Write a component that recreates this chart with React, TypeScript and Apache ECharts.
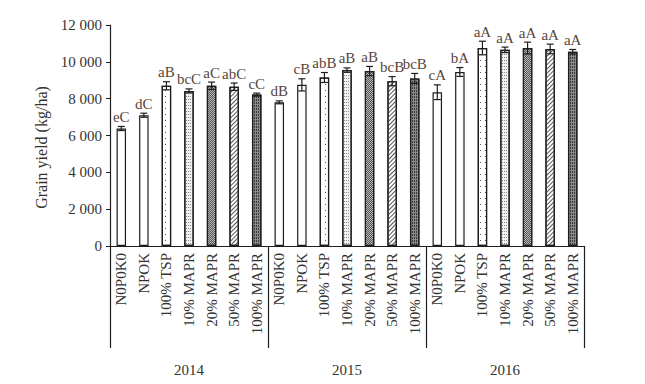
import React, { useEffect, useRef } from "react";
import * as echarts from "echarts";

const years = ["2014", "2015", "2016"];
const treatments = ["N0P0K0", "NPOK", "100% TSP", "10% MAPR", "20% MAPR", "50% MAPR", "100% MAPR"];
const yield2014 = [6380, 7100, 8700, 8420, 8700, 8650, 8220];
const yield2015 = [7800, 8750, 9150, 9550, 9500, 8950, 9100];
const yield2016 = [8350, 9450, 10750, 10650, 10750, 10700, 10550];
const err2014 = [110, 110, 220, 110, 200, 200, 80];
const err2015 = [80, 330, 270, 120, 250, 250, 270];
const err2016 = [400, 240, 370, 150, 320, 260, 120];
const letters2014 = ["eC", "dC", "aB", "bcC", "aC", "abC", "cC"];
const letters2015 = ["dB", "cB", "abB", "aB", "aB", "bcB", "bcB"];
const letters2016 = ["cA", "bA", "aA", "aA", "aA", "aA", "aA"];
const yTicks = [0, 2000, 4000, 6000, 8000, 10000, 12000];

const FONT = "'Liberation Serif', 'DejaVu Serif', serif";
const INK = "#1e1e1e";
const TEXT = "#333333";
const LETTER = "#57463c";

const fills: any[] = [
  { color: "#ffffff" },
  { color: "#ffffff" },
  {
    color: "#ffffff",
    decal: { symbol: "rect", symbolSize: 1, dashArrayX: [1, 4], dashArrayY: [1, 5], color: "#555555" },
  },
  {
    color: "#f2f2f2",
    decal: { symbol: "rect", symbolSize: 1, dashArrayX: [1, 1], dashArrayY: [1, 2], color: "#8a8a8a" },
  },
  {
    color: "#b8b8b8",
    decal: { symbol: "rect", symbolSize: 1, dashArrayX: [[1, 1], [0, 1, 1, 0]], dashArrayY: [1, 0], color: "#555555" },
  },
  {
    color: "#ffffff",
    decal: { symbol: "rect", symbolSize: 1, dashArrayX: [1, 0], dashArrayY: [1, 2], rotation: -Math.PI / 4, color: "#555555" },
  },
  {
    color: "#8a8a8a",
    decal: { symbol: "rect", symbolSize: 1, dashArrayX: [1, 1], dashArrayY: [2, 1], color: "#3a3a3a" },
  },
];

const allYields = [yield2014, yield2015, yield2016];
const allErrs = [err2014, err2015, err2016];
const allLetters = [letters2014, letters2015, letters2016];

const categories: string[] = [];
const barData: any[] = [];
const errData: any[] = [];
const letterList: string[] = [];
years.forEach((yr, yi) => {
  treatments.forEach((t, ti) => {
    const idx = categories.length;
    categories.push(yr + "|" + t);
    barData.push({
      value: allYields[yi][ti],
      itemStyle: { ...fills[ti], borderColor: INK, borderWidth: 1.2 },
    });
    errData.push([idx, allYields[yi][ti], allErrs[yi][ti]]);
    letterList.push(allLetters[yi][ti]);
  });
});

const fmtThousands = (v: number) => {
  const s = String(v);
  return s.length > 3 ? s.slice(0, s.length - 3) + " " + s.slice(s.length - 3) : s;
};

export default function App() {
  const ref = useRef<HTMLDivElement>(null);
  useEffect(() => {
    if (!ref.current) return;
    const chart = echarts.init(ref.current, undefined, { renderer: "svg" });
    chart.setOption({
      animation: false,
      backgroundColor: "#ffffff",
      grid: [
        { left: 110, right: 61, top: 25, bottom: 138 },
        { left: 110, right: 61, top: 246, bottom: 36 },
      ],
      xAxis: [
        {
          type: "category",
          gridIndex: 0,
          data: categories,
          axisLine: { show: true, lineStyle: { color: INK, width: 1.2 } },
          axisTick: { show: false },
          axisLabel: {
            interval: 0,
            rotate: 90,
            margin: 7,
            fontFamily: FONT,
            fontSize: 15,
            color: TEXT,
            formatter: (v: string) => v.split("|")[1],
          },
          splitLine: { show: false },
        },
        {
          type: "category",
          gridIndex: 1,
          data: years,
          axisLine: { show: false },
          axisTick: { show: false },
          axisLabel: { interval: 0, margin: 14, fontFamily: FONT, fontSize: 15, color: TEXT },
          splitLine: { show: true, interval: 0, lineStyle: { color: INK, width: 1.2 } },
        },
      ],
      yAxis: [
        {
          type: "value",
          gridIndex: 0,
          min: 0,
          max: 12000,
          interval: 2000,
          name: "Grain yield (kg/ha)",
          nameLocation: "middle",
          nameRotate: 90,
          nameGap: 56,
          nameTextStyle: { fontFamily: FONT, fontSize: 16, color: TEXT, padding: [0, 24, 0, 0] },
          axisLine: { show: true, lineStyle: { color: INK, width: 1.2 } },
          axisTick: { show: true, length: 4, lineStyle: { color: INK } },
          axisLabel: {
            margin: 8,
            fontFamily: FONT,
            fontSize: 15,
            color: TEXT,
            formatter: (v: number) => (yTicks.includes(v) ? fmtThousands(v) : ""),
          },
          splitLine: { show: false },
        },
        {
          type: "value",
          gridIndex: 1,
          show: false,
          min: 0,
          max: 1,
          splitLine: { show: false },
        },
      ],
      series: [
        {
          type: "bar",
          xAxisIndex: 0,
          yAxisIndex: 0,
          data: barData,
          barWidth: "42%",
        },
        {
          type: "custom",
          xAxisIndex: 0,
          yAxisIndex: 0,
          data: errData,
          clip: false,
          z: 5,
          renderItem: (params: any, api: any) => {
            const x = api.value(0);
            const v = api.value(1);
            const e = api.value(2);
            const top = api.coord([x, v + e]);
            const bot = api.coord([x, v - e]);
            const cap = 3.5;
            const st = { stroke: INK, lineWidth: 1.2 };
            return {
              type: "group",
              children: [
                { type: "line", shape: { x1: top[0], y1: top[1], x2: bot[0], y2: bot[1] }, style: st },
                { type: "line", shape: { x1: top[0] - cap, y1: top[1], x2: top[0] + cap, y2: top[1] }, style: st },
                { type: "line", shape: { x1: bot[0] - cap, y1: bot[1], x2: bot[0] + cap, y2: bot[1] }, style: st },
                {
                  type: "text",
                  x: top[0],
                  y: top[1] - 2,
                  style: {
                    text: letterList[params.dataIndex],
                    align: "center",
                    verticalAlign: "bottom",
                    fontFamily: FONT,
                    fontSize: 15,
                    fill: LETTER,
                  },
                },
              ],
            };
          },
        },
      ],
    });
    return () => chart.dispose();
  }, []);
  return <div ref={ref} style={{ width: 645, height: 384, position: "absolute", left: 0, top: 0 }} />;
}
